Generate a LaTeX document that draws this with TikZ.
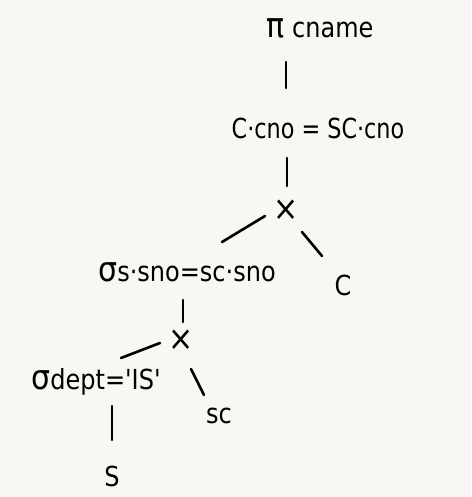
\documentclass[tikz,border=0pt]{standalone}
\usepackage{fontspec}
\setmainfont{DejaVu Sans}
\definecolor{paper}{RGB}{248,247,244}
\newcommand{\bigsym}[1]{{\fontsize{30}{30}\selectfont #1}}
\begin{document}
\begin{tikzpicture}[x=1pt,y=-1pt,
  lbl/.style={inner sep=0pt, font=\fontsize{24}{28}\selectfont, yscale=1.15},
  edge/.style={line width=2.6pt, line cap=round}]
\fill[paper] (0,0) rectangle (471,497);
\useasboundingbox (0,0) rectangle (471,497);
\node[lbl] (pi) at (320,28) {\bigsym{π} cname};
\node[lbl, xscale=0.93] (s1) at (318,128) {C·cno = SC·cno};
\node[lbl] (x1) at (286,210) {\bigsym{×}};
\node[lbl] (s2) at (187,272) {\bigsym{σ}s·sno=sc·sno};
\node[lbl] (c) at (343,285) {C};
\node[lbl] (x2) at (181,340) {\bigsym{×}};
\node[lbl] (s3) at (96,382) {\bigsym{σ}dept=\textquotesingle IS\textquotesingle};
\node[lbl] (sc) at (219,416) {sc};
\node[lbl] (s) at (112,476) {S};
\coordinate (a1) at (286,62); \coordinate (a2) at (286,88);
\coordinate (b1) at (287,158); \coordinate (b2) at (287,186);
\coordinate (c1) at (265,216); \coordinate (c2) at (222,242);
\coordinate (d1) at (302,232); \coordinate (d2) at (322,256);
\coordinate (e1) at (183,300); \coordinate (e2) at (183,322);
\coordinate (f1) at (160,343); \coordinate (f2) at (121,358);
\coordinate (g1) at (191,369); \coordinate (g2) at (204,395);
\coordinate (h1) at (112,406); \coordinate (h2) at (112,440);
\draw[edge] (a1) -- (a2);
\draw[edge] (b1) -- (b2);
\draw[edge] (c1) -- (c2);
\draw[edge] (d1) -- (d2);
\draw[edge] (e1) -- (e2);
\draw[edge] (f1) -- (f2);
\draw[edge] (g1) -- (g2);
\draw[edge] (h1) -- (h2);
\end{tikzpicture}
\end{document}
